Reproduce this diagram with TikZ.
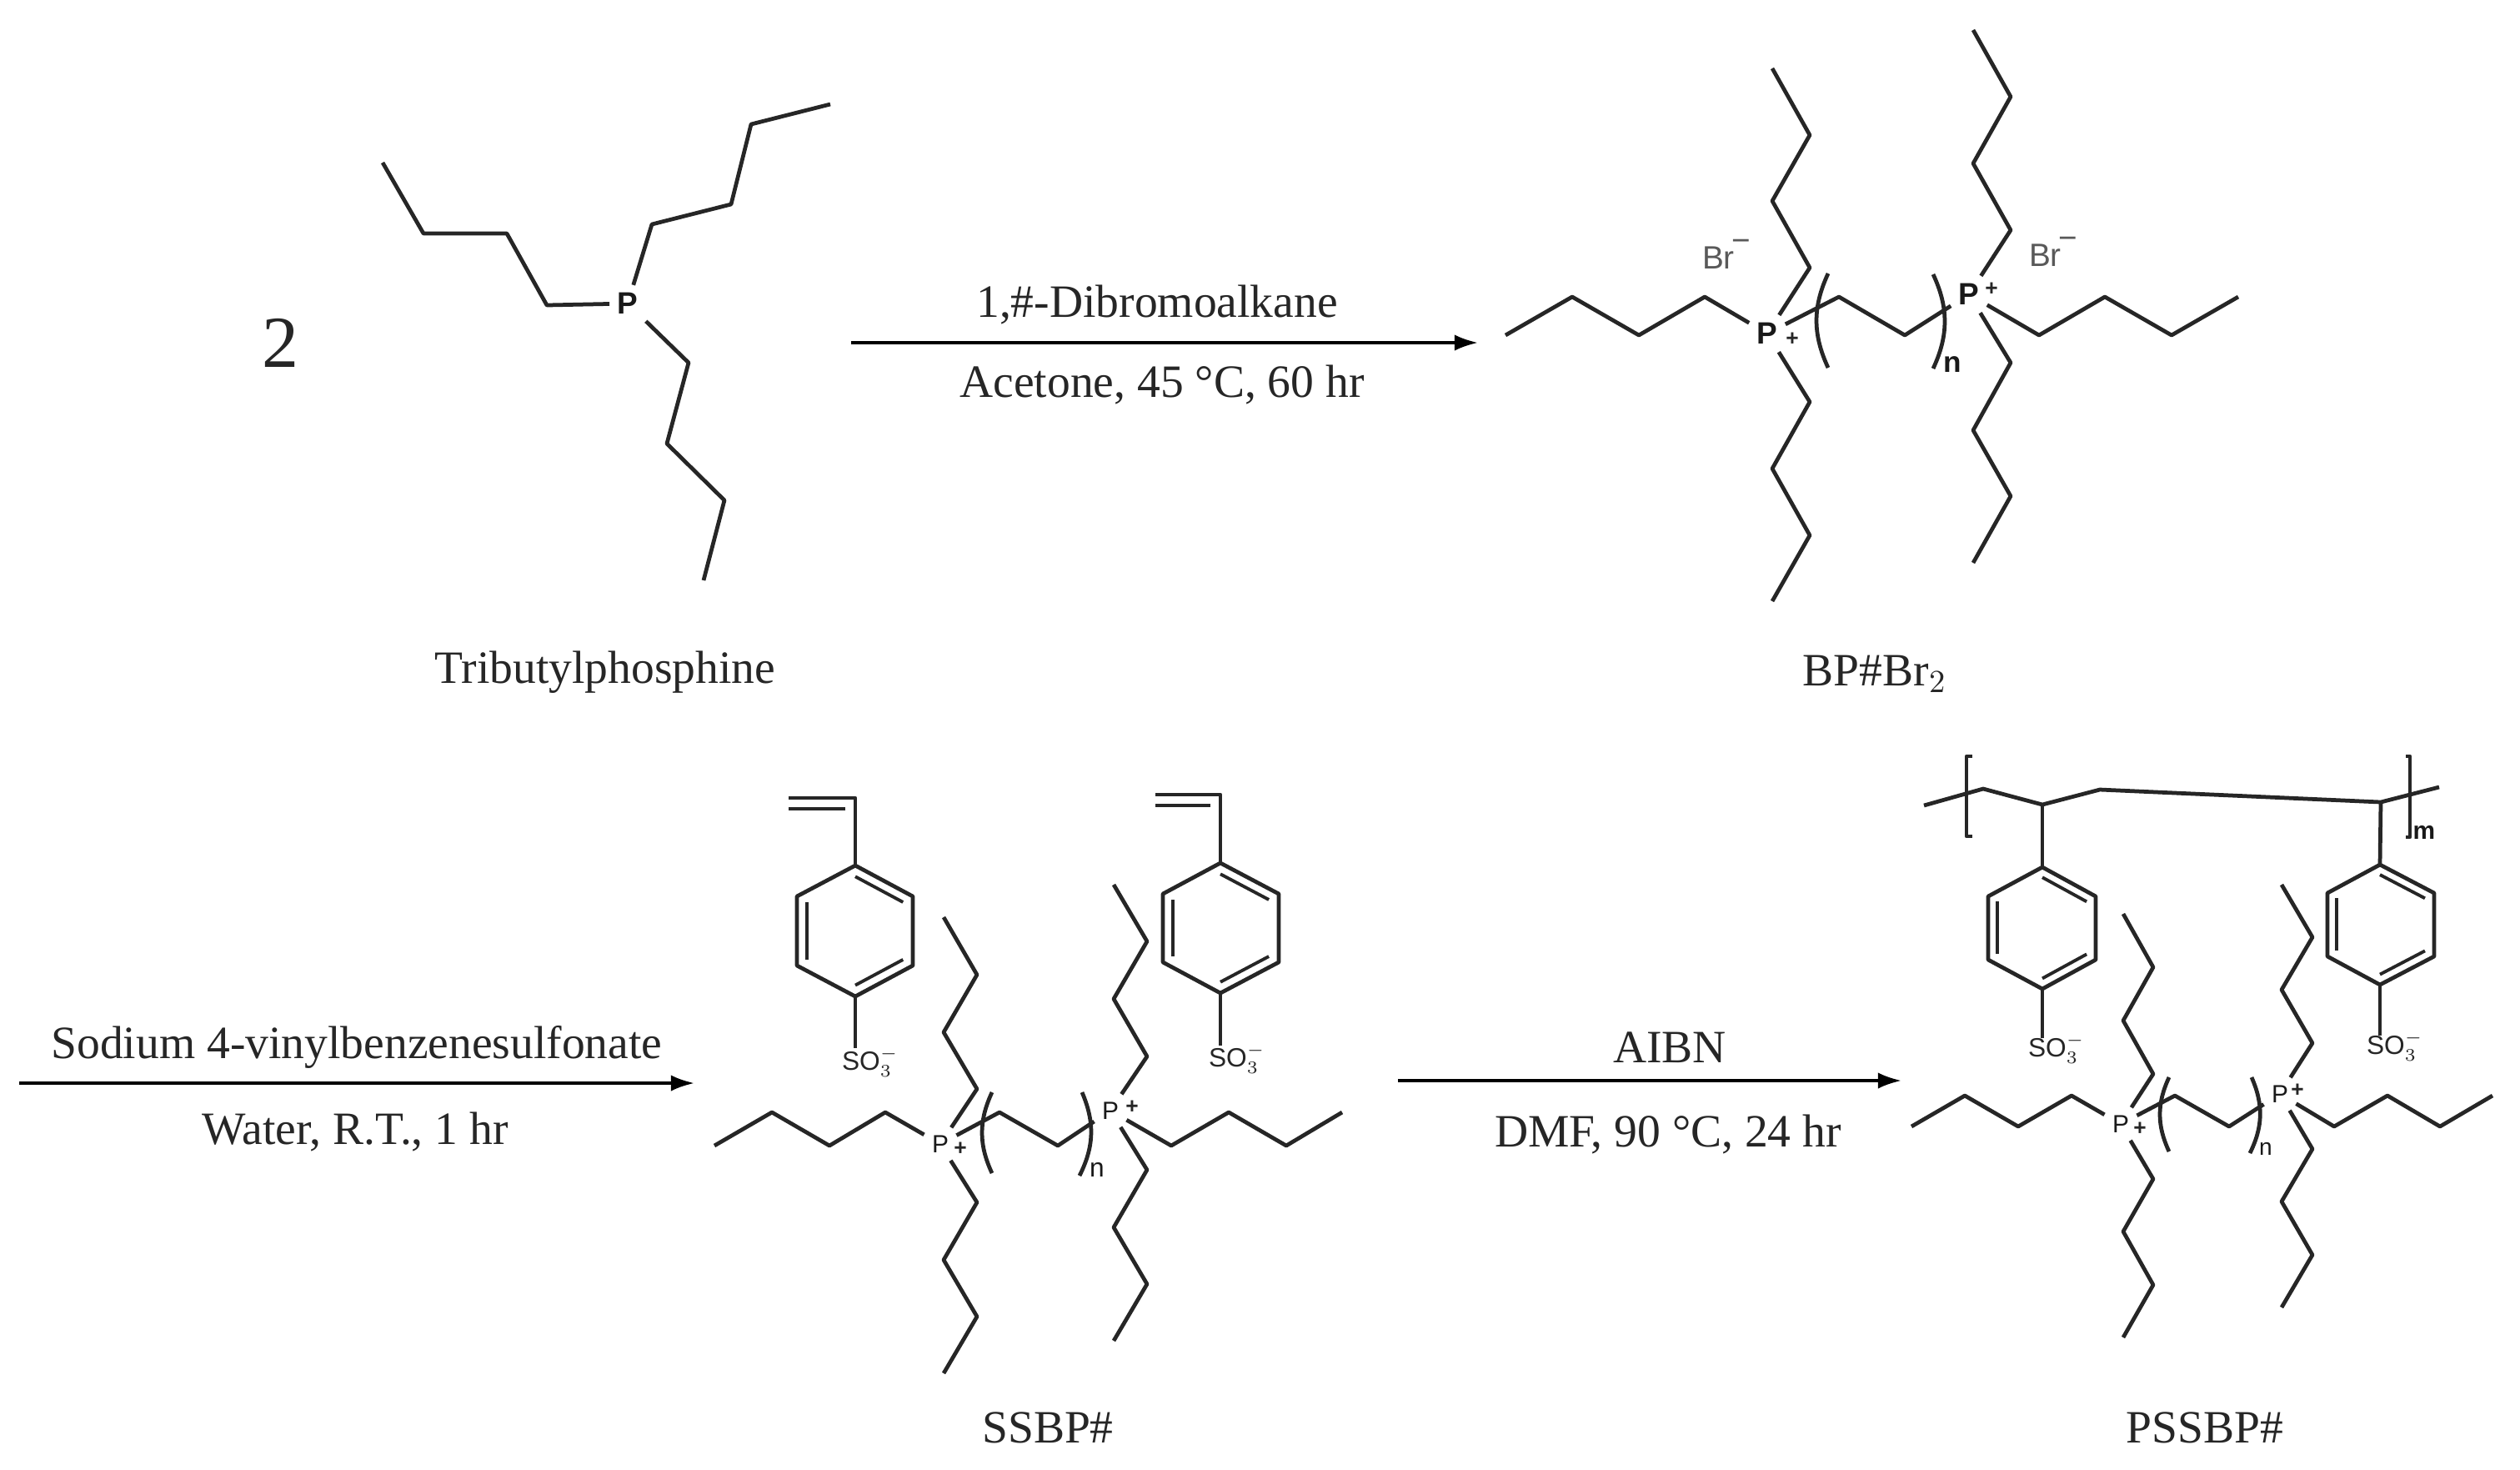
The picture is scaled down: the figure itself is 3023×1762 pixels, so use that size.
\documentclass[tikz,border=0pt]{standalone}
\usepackage{fontspec}
\setmainfont{Liberation Serif}
\setsansfont{Liberation Sans}
\usepackage{tikz}
\usetikzlibrary{calc,arrows.meta}

\begin{document}
\begin{tikzpicture}[x=0.01cm, y=-0.01cm,
  bond/.style = {line width=1.35pt, color=black!85, line join=round},
  thinbond/.style = {line width=1.1pt, color=black!85},
  step arrow/.style = {line width=1pt, -{Latex[length=8pt,width=5.5pt]}},
  caption/.style = {font=\fontsize{15.8}{18}\selectfont, text=black!85, inner sep=0pt},
  atom/.style = {font=\sffamily\fontsize{8.5}{10}\selectfont, text=black!90, inner sep=2.5pt},
  bigatom/.style = {font=\sffamily\bfseries\fontsize{10.5}{12}\selectfont, text=black!90, inner sep=2.5pt},
  charge/.style = {font=\sffamily\bfseries\fontsize{7.5}{9}\selectfont, text=black!85, inner sep=0pt},
  ion/.style = {font=\sffamily\fontsize{11}{13}\selectfont, text=black!65, inner sep=0pt},
  sulfo/.style = {font=\sffamily\fontsize{9}{11}\selectfont, text=black!85, inner sep=0pt},
  repeat/.style = {font=\sffamily\fontsize{9}{11}\selectfont, text=black!90, inner sep=0pt}]
\useasboundingbox (0,0) rectangle (3023,1762);

\node[caption, font=\fontsize{25}{28}\selectfont] (two) at (336,411) {2};
\node[bigatom] (tp) at (753,364) {P};
\node[caption] (tname) at (726,806) {Tributylphosphine};
\coordinate (t1) at (656,366); \coordinate (t2) at (608,280); \coordinate (t3) at (508,280); \coordinate (t4) at (459,195);
\coordinate (t5) at (782,269); \coordinate (t6) at (877,245); \coordinate (t7) at (901,149); \coordinate (t8) at (996,125);
\coordinate (t9) at (826,435); \coordinate (t10) at (800,532); \coordinate (t11) at (869,600); \coordinate (t12) at (844,696);
\draw[bond] (tp) -- (t1) -- (t2) -- (t3) -- (t4);
\draw[bond] (tp) -- (t5) -- (t6) -- (t7) -- (t8);
\draw[bond] (tp) -- (t9) -- (t10) -- (t11) -- (t12);

\coordinate (s1) at (1021,411);
\coordinate (e1) at (1773,411);
\draw[step arrow] (s1) -- (e1);
\node[caption] (c1) at (1388,365) {1,\#-Dibromoalkane};
\node[caption] (c2) at (1394,461) {Acetone, 45 °C, 60 hr};

\node[bigatom] (bp1) at (2120,400) {P};
\node[bigatom] (bp2) at (2362,353) {P};
\node[charge] (bq1) at (2150,407) {+};
\node[charge] (bq2) at (2389,347) {+};
\node[ion] (br1) at (2071,305) {Br\kern-1pt\raisebox{1.0ex}{−}};
\node[ion] (br2) at (2463,302) {Br\kern-1pt\raisebox{1.0ex}{−}};
\node[repeat, font=\sffamily\bfseries\fontsize{10}{12}\selectfont] (bn) at (2342,437) {n};
\node[caption] (bname) at (2249,808) {BP\#Br$_2$};
\coordinate (b1) at (2045,356); \coordinate (b2) at (1966,402); \coordinate (b3) at (1886,356); \coordinate (b4) at (1806,402);
\coordinate (b5) at (2171,321); \coordinate (b6) at (2126,241); \coordinate (b7) at (2171,162); \coordinate (b8) at (2126,82);
\coordinate (b9) at (2171,482); \coordinate (b10) at (2126,562); \coordinate (b11) at (2171,642); \coordinate (b12) at (2126,721);
\coordinate (b13) at (2206,356); \coordinate (b14) at (2285,402);
\coordinate (b15) at (2446,402); \coordinate (b16) at (2525,356); \coordinate (b17) at (2605,402); \coordinate (b18) at (2685,356);
\coordinate (b19) at (2412,276); \coordinate (b20) at (2367,196); \coordinate (b21) at (2412,116); \coordinate (b22) at (2367,36);
\coordinate (b23) at (2412,435); \coordinate (b24) at (2367,516); \coordinate (b25) at (2412,595); \coordinate (b26) at (2367,675);
\coordinate (bl1) at (2193,328); \coordinate (bl2) at (2193,441); \coordinate (br3) at (2319,329); \coordinate (br4) at (2319,442);
\draw[bond] (bp1) -- (b1) -- (b2) -- (b3) -- (b4);
\draw[bond] (bp1) -- (b5) -- (b6) -- (b7) -- (b8);
\draw[bond] (bp1) -- (b9) -- (b10) -- (b11) -- (b12);
\draw[bond] (bp1) -- (b13) -- (b14) -- (bp2);
\draw[bond] (bp2) -- (b15) -- (b16) -- (b17) -- (b18);
\draw[bond] (bp2) -- (b19) -- (b20) -- (b21) -- (b22);
\draw[bond] (bp2) -- (b23) -- (b24) -- (b25) -- (b26);
\draw[bond] (bl1) to[bend right=25] (bl2);
\draw[bond] (br3) to[bend left=25] (br4);

\coordinate (s2) at (23,1299);
\coordinate (e2) at (833,1299);
\draw[step arrow] (s2) -- (e2);
\node[caption] (c3) at (428,1256) {Sodium 4-vinylbenzenesulfonate};
\node[caption] (c4) at (426,1357) {Water, R.T., 1 hr};

\node[atom] (sp1) at (1128,1372) {P};
\node[atom] (sp2) at (1332,1332) {P};
\node[charge] (sq1) at (1152,1378) {+};
\node[charge] (sq2) at (1358,1328) {+};
\node[repeat] (sn) at (1316,1403) {n};
\node[caption] (sname) at (1257,1712) {SSBP\#};
\coordinate (c01) at (1062,1334); \coordinate (c02) at (995,1374); \coordinate (c03) at (926,1334); \coordinate (c04) at (857,1374);
\coordinate (c05) at (1172,1306); \coordinate (c06) at (1132,1238); \coordinate (c07) at (1172,1169); \coordinate (c08) at (1132,1100);
\coordinate (c09) at (1172,1442); \coordinate (c10) at (1132,1511); \coordinate (c11) at (1172,1579); \coordinate (c12) at (1132,1647);
\coordinate (c13) at (1199,1334); \coordinate (c14) at (1269,1374);
\coordinate (c15) at (1405,1374); \coordinate (c16) at (1474,1334); \coordinate (c17) at (1543,1374); \coordinate (c18) at (1610,1334);
\coordinate (c19) at (1376,1267); \coordinate (c20) at (1336,1198); \coordinate (c21) at (1376,1129); \coordinate (c22) at (1336,1061);
\coordinate (c23) at (1376,1403); \coordinate (c24) at (1336,1472); \coordinate (c25) at (1376,1540); \coordinate (c26) at (1336,1608);
\coordinate (cl1) at (1190,1310); \coordinate (cl2) at (1190,1407); \coordinate (cr1) at (1298,1310); \coordinate (cr2) at (1295,1410);
\draw[bond] (sp1) -- (c01) -- (c02) -- (c03) -- (c04);
\draw[bond] (sp1) -- (c05) -- (c06) -- (c07) -- (c08);
\draw[bond] (sp1) -- (c09) -- (c10) -- (c11) -- (c12);
\draw[bond] (sp1) -- (c13) -- (c14) -- (sp2);
\draw[bond] (sp2) -- (c15) -- (c16) -- (c17) -- (c18);
\draw[bond] (sp2) -- (c19) -- (c20) -- (c21) -- (c22);
\draw[bond] (sp2) -- (c23) -- (c24) -- (c25) -- (c26);
\draw[bond] (cl1) to[bend right=25] (cl2);
\draw[bond] (cr1) to[bend left=25] (cr2);

\coordinate (ra1) at (1026,1038); \coordinate (ra2) at (1095,1075); \coordinate (ra3) at (1095,1158);
\coordinate (ra4) at (1026,1195); \coordinate (ra5) at (956,1158); \coordinate (ra6) at (956,1075);
\coordinate (ra7) at (1026,957); \coordinate (ra8) at (946,957);
\coordinate (ra9) at (1014,970); \coordinate (ra10) at (946,970);
\coordinate (ra11) at (1026,1257); \coordinate (ra0) at (1026,1116);
\node[sulfo] (so1) at (1044,1274) {SO$_3^-$};
\draw[bond] (ra1) -- (ra2) -- (ra3) -- (ra4) -- (ra5) -- (ra6) -- cycle;
\draw[bond] (ra1) -- (ra7) -- (ra8);
\draw[thinbond] (ra9) -- (ra10);
\draw[bond] (ra4) -- (ra11);
\draw[thinbond] ($(ra1)!.17!(ra0)$) -- ($(ra2)!.17!(ra0)$);
\draw[thinbond] ($(ra3)!.17!(ra0)$) -- ($(ra4)!.17!(ra0)$);
\draw[thinbond] ($(ra5)!.17!(ra0)$) -- ($(ra6)!.17!(ra0)$);

\coordinate (rb1) at (1464,1035); \coordinate (rb2) at (1534,1072); \coordinate (rb3) at (1534,1154);
\coordinate (rb4) at (1464,1191); \coordinate (rb5) at (1395,1154); \coordinate (rb6) at (1395,1072);
\coordinate (rb7) at (1464,953); \coordinate (rb8) at (1386,953);
\coordinate (rb9) at (1452,966); \coordinate (rb10) at (1386,966);
\coordinate (rb11) at (1464,1254); \coordinate (rb0) at (1464,1113);
\node[sulfo] (so2) at (1484,1270) {SO$_3^-$};
\draw[bond] (rb1) -- (rb2) -- (rb3) -- (rb4) -- (rb5) -- (rb6) -- cycle;
\draw[bond] (rb1) -- (rb7) -- (rb8);
\draw[thinbond] (rb9) -- (rb10);
\draw[bond] (rb4) -- (rb11);
\draw[thinbond] ($(rb1)!.17!(rb0)$) -- ($(rb2)!.17!(rb0)$);
\draw[thinbond] ($(rb3)!.17!(rb0)$) -- ($(rb4)!.17!(rb0)$);
\draw[thinbond] ($(rb5)!.17!(rb0)$) -- ($(rb6)!.17!(rb0)$);

\coordinate (s3) at (1677,1296);
\coordinate (e3) at (2281,1296);
\draw[step arrow] (s3) -- (e3);
\node[caption] (c5) at (2003,1256) {AIBN};
\node[caption] (c6) at (2001,1360) {DMF, 90 °C, 24 hr};

\node[atom] (pp1) at (2544,1348) {P};
\node[atom] (pp2) at (2735,1312) {P};
\node[charge] (pq1) at (2567,1354) {+};
\node[charge] (pq2) at (2756,1308) {+};
\node[repeat, font=\sffamily\fontsize{8}{10}\selectfont] (pn) at (2718,1378) {n};
\node[repeat, font=\sffamily\bfseries\fontsize{8.5}{10}\selectfont] (pm) at (2908,998) {m};
\node[caption] (pname) at (2645,1712) {PSSBP\#};
\coordinate (d01) at (2485,1314); \coordinate (d02) at (2421,1351); \coordinate (d03) at (2357,1314); \coordinate (d04) at (2293,1351);
\coordinate (d05) at (2583,1288); \coordinate (d06) at (2547,1224); \coordinate (d07) at (2583,1160); \coordinate (d08) at (2547,1096);
\coordinate (d09) at (2583,1414); \coordinate (d10) at (2547,1477); \coordinate (d11) at (2583,1541); \coordinate (d12) at (2547,1604);
\coordinate (d13) at (2609,1314); \coordinate (d14) at (2674,1351);
\coordinate (d15) at (2800,1351); \coordinate (d16) at (2864,1314); \coordinate (d17) at (2927,1351); \coordinate (d18) at (2990,1314);
\coordinate (d19) at (2774,1251); \coordinate (d20) at (2737,1187); \coordinate (d21) at (2774,1124); \coordinate (d22) at (2737,1061);
\coordinate (d23) at (2774,1378); \coordinate (d24) at (2737,1441); \coordinate (d25) at (2774,1505); \coordinate (d26) at (2737,1568);
\coordinate (dl1) at (2602,1292); \coordinate (dl2) at (2602,1381); \coordinate (dr1) at (2701,1292); \coordinate (dr2) at (2699,1383);
\draw[bond] (pp1) -- (d01) -- (d02) -- (d03) -- (d04);
\draw[bond] (pp1) -- (d05) -- (d06) -- (d07) -- (d08);
\draw[bond] (pp1) -- (d09) -- (d10) -- (d11) -- (d12);
\draw[bond] (pp1) -- (d13) -- (d14) -- (pp2);
\draw[bond] (pp2) -- (d15) -- (d16) -- (d17) -- (d18);
\draw[bond] (pp2) -- (d19) -- (d20) -- (d21) -- (d22);
\draw[bond] (pp2) -- (d23) -- (d24) -- (d25) -- (d26);
\draw[bond] (dl1) to[bend right=25] (dl2);
\draw[bond] (dr1) to[bend left=25] (dr2);

\coordinate (rc1) at (2450,1040); \coordinate (rc2) at (2514,1075); \coordinate (rc3) at (2514,1151);
\coordinate (rc4) at (2450,1186); \coordinate (rc5) at (2385,1151); \coordinate (rc6) at (2385,1075);
\coordinate (rc7) at (2450,1245); \coordinate (rc0) at (2450,1112);
\node[sulfo] (so3) at (2467,1258) {SO$_3^-$};
\draw[bond] (rc1) -- (rc2) -- (rc3) -- (rc4) -- (rc5) -- (rc6) -- cycle;
\draw[bond] (rc4) -- (rc7);
\draw[thinbond] ($(rc1)!.17!(rc0)$) -- ($(rc2)!.17!(rc0)$);
\draw[thinbond] ($(rc3)!.17!(rc0)$) -- ($(rc4)!.17!(rc0)$);
\draw[thinbond] ($(rc5)!.17!(rc0)$) -- ($(rc6)!.17!(rc0)$);

\coordinate (rd1) at (2855,1037); \coordinate (rd2) at (2920,1071); \coordinate (rd3) at (2920,1147);
\coordinate (rd4) at (2855,1181); \coordinate (rd5) at (2792,1147); \coordinate (rd6) at (2792,1071);
\coordinate (rd7) at (2855,1242); \coordinate (rd0) at (2855,1108);
\node[sulfo] (so4) at (2873,1255) {SO$_3^-$};
\draw[bond] (rd1) -- (rd2) -- (rd3) -- (rd4) -- (rd5) -- (rd6) -- cycle;
\draw[bond] (rd4) -- (rd7);
\draw[thinbond] ($(rd1)!.17!(rd0)$) -- ($(rd2)!.17!(rd0)$);
\draw[thinbond] ($(rd3)!.17!(rd0)$) -- ($(rd4)!.17!(rd0)$);
\draw[thinbond] ($(rd5)!.17!(rd0)$) -- ($(rd6)!.17!(rd0)$);

\coordinate (m1) at (2308,966); \coordinate (m2) at (2379,946); \coordinate (m3) at (2450,965);
\coordinate (m4) at (2519,947); \coordinate (m5) at (2856,962); \coordinate (m6) at (2926,944);
\coordinate (k1) at (2366,907); \coordinate (k2) at (2359,907); \coordinate (k3) at (2359,1003); \coordinate (k4) at (2366,1003);
\coordinate (k5) at (2886,907); \coordinate (k6) at (2891,907); \coordinate (k7) at (2891,1004); \coordinate (k8) at (2886,1004);
\draw[bond] (m1) -- (m2) -- (m3) -- (m4) -- (m5) -- (m6);
\draw[bond] (m3) -- (rc1);
\draw[bond] (m5) -- (rd1);
\draw[bond] (k1) -- (k2) -- (k3) -- (k4);
\draw[bond] (k5) -- (k6) -- (k7) -- (k8);
\end{tikzpicture}
\end{document}
